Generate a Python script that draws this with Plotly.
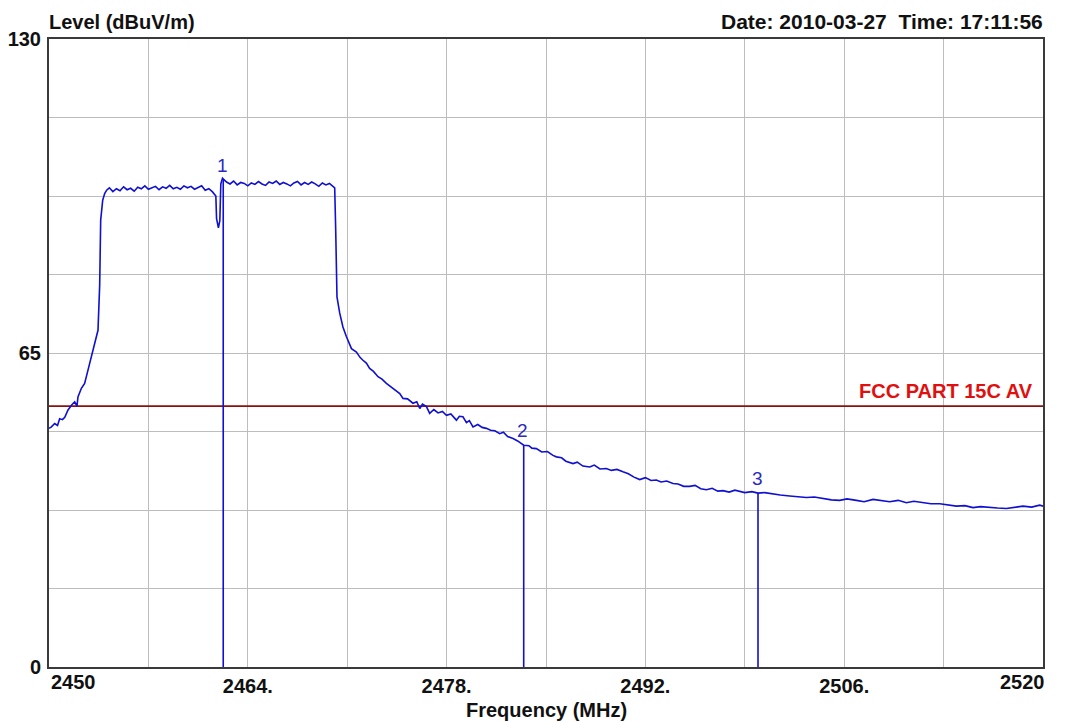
import plotly.graph_objects as go

# ---------------- data ----------------
FREQ = [
    2450.00, 2450.17, 2450.40, 2450.60, 2450.75, 2450.95, 2451.11, 2451.34, 2451.58, 2451.81,
    2451.97, 2452.04, 2452.28, 2452.51, 2452.75, 2452.99, 2453.22, 2453.45, 2453.57, 2453.64,
    2453.78, 2453.92, 2454.06,
    2454.25, 2454.50, 2454.75, 2455.00, 2455.25, 2455.50, 2455.75, 2456.00, 2456.25, 2456.50,
    2456.75, 2457.00, 2457.25, 2457.50, 2457.75, 2458.00, 2458.25, 2458.50, 2458.75, 2459.00,
    2459.25, 2459.50, 2459.75, 2460.00, 2460.25, 2460.50, 2460.75, 2461.00, 2461.25, 2461.50,
    2461.75, 2461.80, 2461.93, 2462.03, 2462.10, 2462.22,
    2462.50, 2462.75, 2463.00, 2463.25, 2463.50, 2463.75, 2464.00, 2464.25, 2464.50, 2464.75,
    2465.00, 2465.25, 2465.50, 2465.75, 2466.00, 2466.25, 2466.50, 2466.75, 2467.00, 2467.25,
    2467.50, 2467.75, 2468.00, 2468.25, 2468.50, 2468.75, 2469.00, 2469.25, 2469.50, 2469.75,
    2470.12, 2470.19, 2470.26, 2470.28, 2470.47, 2470.70, 2470.94, 2471.10, 2471.30, 2471.65,
    2471.90, 2472.11, 2472.35, 2472.58, 2472.85, 2473.17, 2473.45, 2473.76, 2474.10, 2474.46,
    2474.70, 2474.93, 2475.25, 2475.63, 2475.90, 2476.11, 2476.30, 2476.58, 2476.81, 2477.10,
    2477.40, 2477.70, 2477.99, 2478.30, 2478.69, 2478.90, 2479.15, 2479.40, 2479.60, 2479.86,
    2480.20, 2480.50, 2480.80, 2481.10, 2481.40, 2481.74, 2482.00, 2482.30, 2482.68, 2483.00,
    2483.43, 2483.80, 2484.00, 2484.32, 2484.70, 2485.10, 2485.49, 2485.73,
    2486.10, 2486.40, 2486.90, 2487.20, 2487.60, 2488.08, 2488.40, 2488.80, 2489.25, 2489.60,
    2490.00, 2490.42, 2490.80, 2491.20, 2491.60, 2492.00, 2492.40, 2492.77, 2493.10, 2493.50,
    2493.94, 2494.30, 2494.70, 2495.12, 2495.50, 2495.90, 2496.30, 2496.70, 2497.10, 2497.46,
    2497.90, 2498.30, 2498.64, 2499.00, 2499.50, 2499.93, 2500.40, 2500.99, 2501.50, 2502.16,
    2502.70, 2503.34, 2503.90, 2504.51, 2505.10, 2505.68, 2506.20, 2506.86, 2507.40, 2508.03,
    2508.60, 2509.20, 2509.80, 2510.38, 2510.90, 2511.55, 2512.10, 2512.73, 2513.30, 2513.90,
    2514.50, 2515.07, 2515.60, 2516.25, 2516.80, 2517.42, 2518.00, 2518.59, 2519.20, 2519.77,
    2520.00,
]

LEVEL = [
    49.4, 49.7, 50.4, 50.0, 51.4, 51.2, 51.7, 53.2, 54.2, 54.9,
    54.0, 55.9, 57.7, 58.7, 61.5, 64.2, 67.0, 69.7, 79.1, 92.5,
    96.6, 98.0, 98.7,
    99.2, 98.4, 99.0, 98.6, 99.4, 98.8, 99.1, 98.5, 99.3, 99.0,
    99.6, 98.9, 99.2, 99.5, 98.8, 99.4, 99.1, 99.7, 99.0, 99.3,
    98.9, 99.6, 99.2, 99.5, 98.9, 99.3, 99.6, 98.7, 99.0, 98.4,
    97.5, 92.8, 90.9, 92.4, 100.0, 101.2,
    100.4, 100.0, 100.6, 99.8, 100.3, 100.1, 99.6, 100.2, 99.9, 100.5,
    100.0, 99.7, 100.4, 100.1, 100.6, 99.9, 100.3, 100.0, 99.6, 100.2,
    100.5, 99.8, 100.3, 99.9, 100.4, 100.0, 99.5, 100.2, 99.8, 100.1,
    99.2, 90.5, 82.8, 76.6, 73.3, 70.4, 68.4, 67.2, 65.9, 65.2,
    64.1, 63.5, 62.9, 61.8, 61.2, 60.1, 59.6, 58.7, 57.9, 57.0,
    56.6, 55.6, 55.5, 54.6, 54.9, 53.5, 54.4, 53.9, 52.5, 53.3,
    52.6, 52.9, 52.1, 52.4, 51.1, 51.9, 51.8, 50.6, 51.0, 49.7,
    50.2, 49.6, 49.4, 49.0, 48.9, 48.3, 48.6, 47.7, 47.3, 46.8,
    45.9, 45.8, 45.3, 45.2, 44.5, 44.6, 43.8, 43.5,
    43.3, 42.6, 42.1, 42.4, 41.6, 41.4, 41.8, 41.0, 41.1, 40.7,
    40.9, 40.4, 40.0, 39.3, 38.8, 39.2, 38.6, 38.7, 38.3, 38.5,
    38.0, 37.9, 37.4, 37.4, 37.6, 36.9, 36.7, 37.0, 36.4, 36.5,
    36.2, 36.6, 36.4, 36.1, 36.3, 36.0, 36.1, 35.8, 35.6, 35.4,
    35.3, 35.1, 35.2, 34.9, 34.6, 34.5, 34.8, 34.5, 34.2, 34.7,
    34.4, 34.2, 34.5, 34.0, 34.3, 34.0, 33.8, 33.8, 33.5, 33.3,
    33.4, 33.0, 33.2, 33.0, 32.9, 32.8, 33.0, 33.3, 33.1, 33.5,
    33.3,
]

LIMIT_LEVEL = 54.0
LIMIT_NAME = "FCC PART 15C AV"

MARKER_FREQ = [2462.27, 2483.43, 2499.93]
MARKER_LEVEL = [100.9, 45.9, 36.0]
MARKER_LABEL = ["1", "2", "3"]

X_TICKS = [2450, 2457, 2464, 2471, 2478, 2485, 2492, 2499, 2506, 2513, 2520]
X_TICK_TEXT = ["2450", "", "2464.", "", "2478.", "", "2492.", "", "2506.", "", "2520"]
Y_TICKS = [0, 16.25, 32.5, 48.75, 65, 81.25, 97.5, 113.75, 130]
Y_TICK_TEXT = ["0", "", "", "", "65", "", "", "", "130"]

Y_TITLE = "Level (dBuV/m)"
X_TITLE = "Frequency (MHz)"
STAMP = "Date: 2010-03-27  Time: 17:11:56"

# ---------------- figure ----------------
FONT = "Liberation Sans, Arial, sans-serif"
TRACE_BLUE = "#1010d0"

fig = go.Figure()

# limit line
fig.add_trace(go.Scatter(
    x=[X_TICKS[0], X_TICKS[-1]], y=[LIMIT_LEVEL, LIMIT_LEVEL],
    mode="lines", line=dict(color="#8b1010", width=1.6), hoverinfo="skip",
))

# spectrum trace
fig.add_trace(go.Scatter(
    x=FREQ, y=LEVEL, mode="lines",
    line=dict(color=TRACE_BLUE, width=1.6),
))

# marker lines
mx, my = [], []
for f, l in zip(MARKER_FREQ, MARKER_LEVEL):
    mx += [f, f, None]
    my += [0, l, None]
fig.add_trace(go.Scatter(
    x=mx, y=my, mode="lines", line=dict(color=TRACE_BLUE, width=1.6),
    hoverinfo="skip",
))

annotations = []
for f, l, t in zip(MARKER_FREQ, MARKER_LEVEL, MARKER_LABEL):
    annotations.append(dict(
        x=f, y=l, xref="x", yref="y", text=t, showarrow=False,
        xanchor="center", yanchor="bottom", yshift=2, xshift=-1,
        font=dict(family=FONT, size=19, color="#2a2ac0"),
    ))

annotations.append(dict(
    x=X_TICKS[-1], y=LIMIT_LEVEL, xref="x", yref="y", text=f"<b>{LIMIT_NAME}</b>",
    showarrow=False, xanchor="right", yanchor="bottom", xshift=-8, yshift=2,
    font=dict(family=FONT, size=20, color="#e01010"),
))

annotations.append(dict(
    x=0, y=1, xref="paper", yref="paper", text=f"<b>{Y_TITLE}</b>",
    showarrow=False, xanchor="left", yanchor="bottom", yshift=4, xshift=-2,
    font=dict(family=FONT, size=20, color="#111"),
))
annotations.append(dict(
    x=1, y=1, xref="paper", yref="paper", text=f"<b>{STAMP}</b>",
    showarrow=False, xanchor="right", yanchor="bottom", yshift=4, xshift=2,
    font=dict(family=FONT, size=21, color="#111"),
))
annotations.append(dict(
    x=0.5, y=0, xref="paper", yref="paper", text=f"<b>{X_TITLE}</b>",
    showarrow=False, xanchor="center", yanchor="top", yshift=-30,
    font=dict(family=FONT, size=20, color="#111"),
))
# end tick labels, aligned with the plot edges
annotations.append(dict(
    x=X_TICKS[0], y=0, xref="x", yref="paper", text=f"<b>{X_TICK_TEXT[0]}</b>",
    showarrow=False, xanchor="left", yanchor="top", yshift=-2,
    font=dict(family=FONT, size=20, color="#111"),
))
annotations.append(dict(
    x=X_TICKS[-1], y=0, xref="x", yref="paper", text=f"<b>{X_TICK_TEXT[-1]}</b>",
    showarrow=False, xanchor="right", yanchor="top", yshift=-2, xshift=4,
    font=dict(family=FONT, size=20, color="#111"),
))

mid_text = [""] + X_TICK_TEXT[1:-1] + [""]

fig.update_layout(
    width=1066, height=722,
    margin=dict(l=49, r=23, t=39, b=55, autoexpand=False),
    paper_bgcolor="white", plot_bgcolor="white",
    showlegend=False,
    annotations=annotations,
    xaxis=dict(
        range=[X_TICKS[0], X_TICKS[-1]],
        tickmode="array", tickvals=X_TICKS, ticktext=mid_text,
        showgrid=True, gridcolor="#bdbdbd", gridwidth=1,
        showline=True, mirror=True, linecolor="#3a3a3a", linewidth=2,
        ticks="", ticklabelstandoff=0, automargin=False,
        tickfont=dict(family=FONT, size=20, color="#111", weight="bold"),
        zeroline=False,
    ),
    yaxis=dict(
        range=[Y_TICKS[0], Y_TICKS[-1]],
        tickmode="array", tickvals=Y_TICKS, ticktext=Y_TICK_TEXT,
        showgrid=True, gridcolor="#bdbdbd", gridwidth=1,
        showline=True, mirror=True, linecolor="#3a3a3a", linewidth=2,
        ticks="", ticklabelstandoff=2, automargin=False,
        tickfont=dict(family=FONT, size=20, color="#111", weight="bold"),
        zeroline=False,
    ),
)

fig.write_html(
    "out.html",
    config={"displayModeBar": False},
    post_script="document.body.style.margin='0';document.body.style.overflow='hidden';",
)
